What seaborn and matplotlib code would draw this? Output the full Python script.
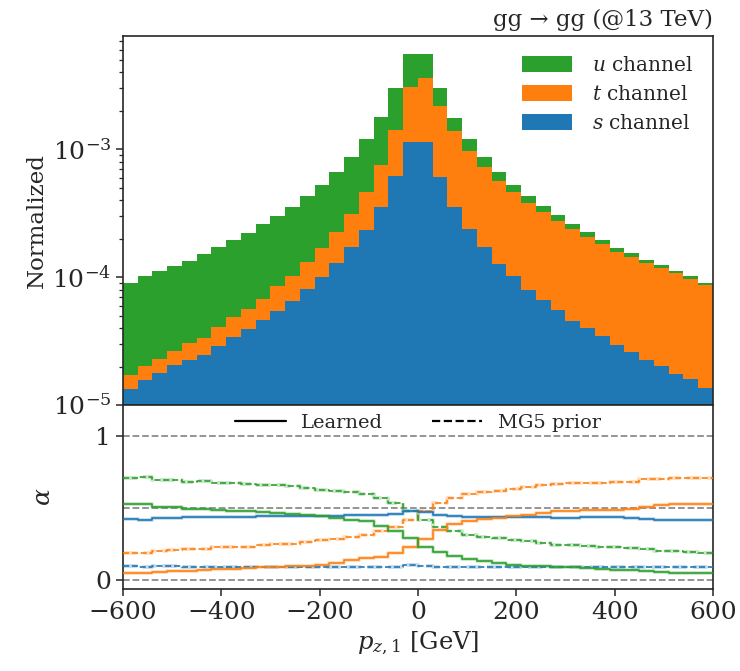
import numpy as np
import pandas as pd
import matplotlib
matplotlib.use("Agg")
import matplotlib.pyplot as plt
from matplotlib.patches import Patch
from matplotlib.lines import Line2D
import seaborn as sns

# ---------------- data ----------------
bin_edges = np.arange(-600, 601, 30)          # 40 bins of 30 GeV
channels = ["u", "t", "s"]

# normalized stacked contributions (units of 1e-5)
s_norm = np.array([1.33, 1.57, 1.77, 2.06, 2.24, 2.48, 2.90, 3.40, 3.95, 4.62,
                   5.43, 6.55, 8.08, 9.98, 12.93, 17.17, 23.48, 35.57, 61.56, 113.1,
                   113.1, 61.19, 35.57, 23.76, 17.17, 12.70, 10.16, 7.94, 6.63, 5.56,
                   4.51, 3.97, 3.48, 2.96, 2.59, 2.23, 2.01, 1.74, 1.59, 1.35]) * 1e-5
t_norm = np.array([0.38, 0.46, 0.52, 0.59, 0.84, 0.89, 1.19, 1.45, 1.72, 2.17,
                   3.16, 3.61, 5.17, 6.88, 9.58, 14.00, 22.90, 39.52, 80.64, 196.3,
                   250.9, 158.2, 103.2, 73.5, 55.27, 43.55, 35.94, 30.08, 25.68, 21.90,
                   19.25, 16.72, 14.53, 12.72, 11.91, 10.78, 9.73, 9.05, 8.15, 7.29]) * 1e-5
u_norm = np.array([7.30, 8.26, 8.83, 9.53, 10.41, 11.94, 13.08, 14.65, 16.45, 19.07,
                   21.47, 25.41, 29.64, 35.46, 44.48, 55.64, 73.02, 102.71, 159.9, 248.9,
                   194.3, 80.9, 37.9, 22.1, 13.86, 9.92, 6.22, 5.13, 3.71, 2.96,
                   2.26, 1.69, 1.35, 1.08, 0.99, 0.73, 0.66, 0.47, 0.48, 0.32]) * 1e-5

# channel weights alpha: learned
alpha_s_learned = [0.424, 0.417, 0.433, 0.433, 0.436, 0.436, 0.438, 0.440, 0.440, 0.443,
                   0.447, 0.447, 0.447, 0.443, 0.443, 0.450, 0.450, 0.454, 0.462, 0.480,
                   0.477, 0.450, 0.443, 0.436, 0.436, 0.438, 0.440, 0.438, 0.436, 0.431,
                   0.431, 0.436, 0.440, 0.438, 0.431, 0.424, 0.420, 0.417, 0.417, 0.417]
alpha_t_learned = [0.046, 0.051, 0.055, 0.060, 0.065, 0.069, 0.074, 0.078, 0.083, 0.088,
                   0.092, 0.095, 0.101, 0.108, 0.122, 0.138, 0.154, 0.160, 0.190, 0.232,
                   0.288, 0.350, 0.390, 0.408, 0.424, 0.433, 0.443, 0.454, 0.470, 0.482,
                   0.482, 0.486, 0.486, 0.491, 0.498, 0.512, 0.521, 0.530, 0.530, 0.533]
alpha_u_learned = [0.533, 0.533, 0.512, 0.512, 0.498, 0.498, 0.491, 0.482, 0.482, 0.475,
                   0.470, 0.463, 0.454, 0.443, 0.431, 0.420, 0.408, 0.380, 0.345, 0.292,
                   0.231, 0.196, 0.166, 0.150, 0.131, 0.120, 0.108, 0.101, 0.095, 0.090,
                   0.090, 0.083, 0.078, 0.071, 0.067, 0.060, 0.055, 0.051, 0.048, 0.046]
# channel weights alpha: MG5 prior
alpha_s_prior = [0.095, 0.092, 0.095, 0.095, 0.094, 0.094, 0.094, 0.094, 0.094, 0.093,
                 0.092, 0.091, 0.091, 0.091, 0.091, 0.091, 0.091, 0.091, 0.092, 0.104,
                 0.101, 0.090, 0.090, 0.090, 0.091, 0.091, 0.091, 0.091, 0.091, 0.091,
                 0.092, 0.092, 0.092, 0.092, 0.092, 0.092, 0.092, 0.092, 0.092, 0.092]
alpha_t_prior = [0.191, 0.191, 0.201, 0.207, 0.219, 0.219, 0.228, 0.233, 0.233, 0.242,
                 0.251, 0.251, 0.265, 0.277, 0.288, 0.300, 0.316, 0.343, 0.373, 0.421,
                 0.482, 0.539, 0.574, 0.597, 0.611, 0.620, 0.634, 0.645, 0.662, 0.668,
                 0.673, 0.675, 0.675, 0.682, 0.685, 0.701, 0.705, 0.708, 0.710, 0.712]
alpha_u_prior = [0.712, 0.715, 0.698, 0.694, 0.685, 0.687, 0.678, 0.673, 0.671, 0.662,
                 0.662, 0.655, 0.643, 0.627, 0.622, 0.611, 0.597, 0.572, 0.537, 0.482,
                 0.420, 0.373, 0.343, 0.316, 0.300, 0.293, 0.281, 0.274, 0.256, 0.247,
                 0.242, 0.237, 0.233, 0.228, 0.224, 0.214, 0.205, 0.201, 0.196, 0.191]

x_ticks = [-600, -400, -200, 0, 200, 400, 600]
title_text = "gg → gg (@13 TeV)"

# ---------------- style ----------------
sns.set_style("ticks")
plt.rcParams["font.family"] = ["DejaVu Serif", "DejaVu Sans"]
plt.rcParams["mathtext.fontset"] = "dejavuserif"
plt.rcParams["axes.linewidth"] = 1.2

blue, orange, green = "#1f77b4", "#ff7f0e", "#2ca02c"
palette = {"s": blue, "t": orange, "u": green}

fig = plt.figure(figsize=(7.4, 6.71), dpi=100)
ax1 = fig.add_axes([0.1662, 0.3964, 0.7973, 0.5500])
ax2 = fig.add_axes([0.1662, 0.1222, 0.7973, 0.2742], sharex=ax1)

# ---------------- top panel ----------------
centers = 0.5 * (bin_edges[:-1] + bin_edges[1:])
df = pd.concat([
    pd.DataFrame({"pz": centers, "w": u_norm, "channel": "u"}),
    pd.DataFrame({"pz": centers, "w": t_norm, "channel": "t"}),
    pd.DataFrame({"pz": centers, "w": s_norm, "channel": "s"}),
], ignore_index=True)

sns.histplot(data=df, x="pz", weights="w", hue="channel", hue_order=channels,
             multiple="stack", bins=bin_edges.tolist(), element="bars", palette=palette,
             alpha=1.0, linewidth=0, legend=False, ax=ax1)
ax1.set_yscale("log")
ax1.set_ylim(1e-5, 7.7e-3)
ax1.set_xlim(-600, 600)
ax1.set_ylabel("Normalized", fontsize=16.5)
ax1.yaxis.set_label_coords(-0.128, 0.5)
ax1.tick_params(axis="x", bottom=False, labelbottom=False)
ax1.tick_params(axis="y", which="major", labelsize=18, length=5, width=1.1)
ax1.tick_params(axis="y", which="minor", length=3, width=0.9)
ax1.set_title(title_text, loc="right", fontsize=16.5, pad=7)

handles = [Patch(facecolor=palette[c], edgecolor="none", label=f"${c}$ channel")
           for c in channels]
ax1.legend(handles=handles, loc="upper right", frameon=False, fontsize=14.5,
           handlelength=2.5, handleheight=0.85, handletextpad=0.95,
           labelspacing=0.5, borderaxespad=0.6)

# ---------------- bottom panel ----------------
for yv in (0.0, 0.5, 1.0):
    ax2.axhline(yv, color="#8c8c8c", ls="--", lw=1.3, zorder=1)

step_x = np.append(bin_edges[:-1], bin_edges[-1])
series = [
    (alpha_s_prior, blue, "--"), (alpha_t_prior, orange, "--"), (alpha_u_prior, green, "--"),
    (alpha_s_learned, blue, "-"), (alpha_t_learned, orange, "-"), (alpha_u_learned, green, "-"),
]
for vals, col, ls in series:
    vals = np.asarray(vals)
    step_y = np.append(vals, vals[-1])
    sns.lineplot(x=step_x, y=step_y, drawstyle="steps-post", color=col, linestyle=ls,
                 lw=2.8, alpha=0.25, estimator=None, sort=False, ax=ax2, zorder=2)
    sns.lineplot(x=step_x, y=step_y, drawstyle="steps-post", color=col, linestyle=ls,
                 lw=1.2, estimator=None, sort=False, ax=ax2, zorder=3)

ax2.set_ylim(-0.062, 1.219)
ax2.set_yticks([0, 1])
ax2.set_xticks(x_ticks)
ax2.set_xticklabels([f"{v}".replace("-", "\u2212") for v in x_ticks])
ax2.tick_params(axis="both", labelsize=18, length=5, width=1.1)
ax2.set_ylabel(r"$\alpha$", fontsize=18)
ax2.yaxis.set_label_coords(-0.115, 0.5)
ax2.set_xlabel(r"$p_{z,1}$ [GeV]", fontsize=17.5, labelpad=4)

leg_handles = [Line2D([], [], color="black", ls="-", lw=1.6, label="Learned"),
               Line2D([], [], color="black", ls="--", lw=1.6, label="MG5 prior")]
ax2.legend(handles=leg_handles, loc="upper center", ncol=2, frameon=False,
           fontsize=14, handlelength=2.6, columnspacing=2.5, borderaxespad=0.05)

fig.savefig("out.png", dpi=100)
